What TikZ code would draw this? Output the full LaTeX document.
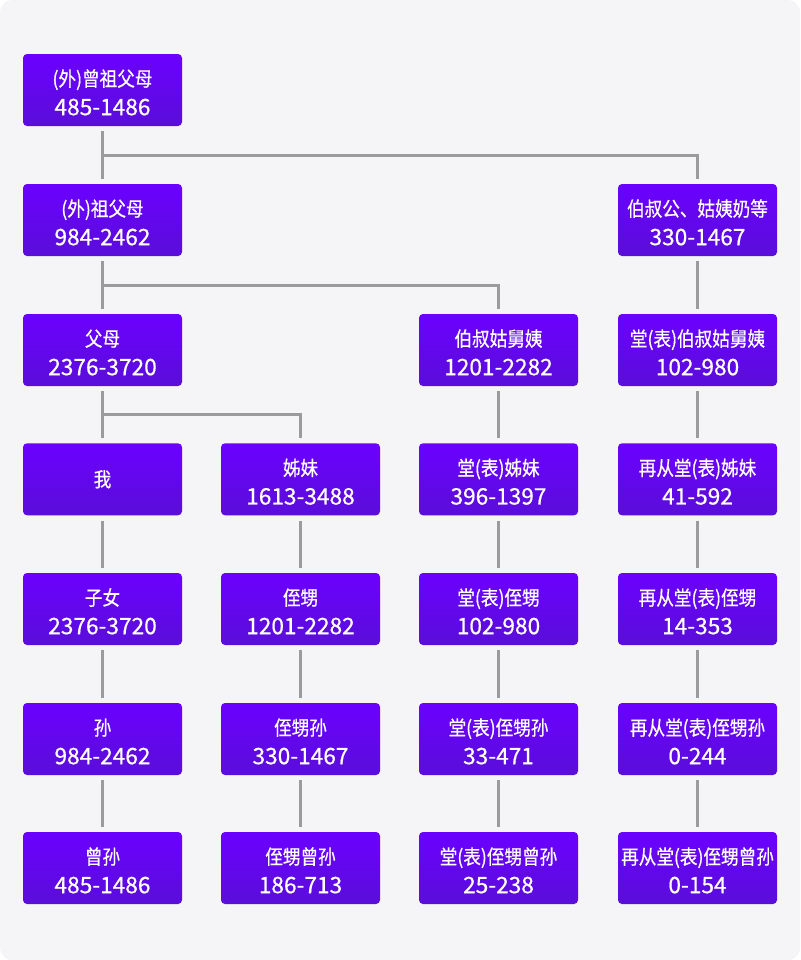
\documentclass[tikz,border=0pt]{standalone}
\usepackage{fontspec}
\newfontfamily\cjk[FakeStretch=0.88,FakeBold=0.6]{Noto Sans CJK SC}
\newfontfamily\numfont[FakeBold=0.6]{Noto Sans CJK SC}
\usetikzlibrary{calc}
\definecolor{bgcol}{HTML}{F5F5F7}
\definecolor{boxtop}{HTML}{6B00FF}
\definecolor{boxbot}{HTML}{5A0ED9}
\definecolor{linkgray}{HTML}{9B9B9B}

\begin{document}
\begin{tikzpicture}[line join=miter,x=0.75pt,y=-0.75pt,
    person/.style={rounded corners=3pt, top color=boxtop, bottom color=boxbot, draw=none,
        text=white, align=center, inner sep=0pt, minimum width=119.25pt, minimum height=54pt,
        font=\cjk\fontsize{15}{21.75}\selectfont},
    pair/.style={person, text height=38pt},
    link/.style={draw=linkgray, line width=2.25pt, shorten <=3.75pt, shorten >=3.75pt}]

    \fill[white] (0,0) rectangle (800,960);
    \fill[bgcol, rounded corners=9pt] (0,0) rectangle (800,960);

    % Direct line
    \draw (102.5,90) node[pair] (ggp) {(外)曾祖父母\\{\numfont\fontsize{17}{21.75}\selectfont 485-1486}};
    \draw (102.5,220) node[pair] (gp) {(外)祖父母\\{\numfont\fontsize{17}{21.75}\selectfont 984-2462}};
    \draw (102.5,350) node[pair] (par) {父母\\{\numfont\fontsize{17}{21.75}\selectfont 2376-3720}};
    \draw (102.5,479.3) node[person] (me) {我};
    \draw (102.5,609) node[pair] (kid) {子女\\{\numfont\fontsize{17}{21.75}\selectfont 2376-3720}};
    \draw (102.5,739) node[pair] (gc) {孙\\{\numfont\fontsize{17}{21.75}\selectfont 984-2462}};
    \draw (102.5,868) node[pair] (ggc) {曾孙\\{\numfont\fontsize{17}{21.75}\selectfont 485-1486}};

    % Siblings
    \draw (300.5,479.3) node[pair] (sib) {姊妹\\{\numfont\fontsize{17}{21.75}\selectfont 1613-3488}};
    \draw (300.5,609) node[pair] (neph) {侄甥\\{\numfont\fontsize{17}{21.75}\selectfont 1201-2282}};
    \draw (300.5,739) node[pair] (gneph) {侄甥孙\\{\numfont\fontsize{17}{21.75}\selectfont 330-1467}};
    \draw (300.5,868) node[pair] (ggneph) {侄甥曾孙\\{\numfont\fontsize{17}{21.75}\selectfont 186-713}};

    % Cousins
    \draw (498.5,350) node[pair] (au) {伯叔姑舅姨\\{\numfont\fontsize{17}{21.75}\selectfont 1201-2282}};
    \draw (498.5,479.3) node[pair] (cous) {堂(表)姊妹\\{\numfont\fontsize{17}{21.75}\selectfont 396-1397}};
    \draw (498.5,609) node[pair] (cneph) {堂(表)侄甥\\{\numfont\fontsize{17}{21.75}\selectfont 102-980}};
    \draw (498.5,739) node[pair] (cgneph) {堂(表)侄甥孙\\{\numfont\fontsize{17}{21.75}\selectfont 33-471}};
    \draw (498.5,868) node[pair] (cggneph) {堂(表)侄甥曾孙\\{\numfont\fontsize{17}{21.75}\selectfont 25-238}};

    % Second cousins
    \draw (697.5,220) node[pair] (gau) {伯叔公、姑姨奶等\\{\numfont\fontsize{17}{21.75}\selectfont 330-1467}};
    \draw (697.5,350) node[pair] (pcous) {堂(表)伯叔姑舅姨\\{\numfont\fontsize{17}{21.75}\selectfont 102-980}};
    \draw (697.5,479.3) node[pair] (scous) {再从堂(表)姊妹\\{\numfont\fontsize{17}{21.75}\selectfont 41-592}};
    \draw (697.5,609) node[pair] (sneph) {再从堂(表)侄甥\\{\numfont\fontsize{17}{21.75}\selectfont 14-353}};
    \draw (697.5,739) node[pair] (sgneph) {再从堂(表)侄甥孙\\{\numfont\fontsize{17}{21.75}\selectfont 0-244}};
    \draw (697.5,868) node[pair] (sggneph) {再从堂(表)侄甥曾孙\\{\numfont\fontsize{17}{21.75}\selectfont 0-154}};

    % Branch points
    \coordinate (b1) at ($(ggp.south)!0.5!(gp.north)$);
    \coordinate (b2) at ($(gp.south)!0.5!(par.north)$);
    \coordinate (b3) at ($(par.south)!0.5!(me.north)$);

    % Trunk
    \draw[link] (ggp) -- (gp);
    \draw[link] (gp) -- (par);
    \draw[link] (par) -- (me);
    \draw[link] (me) -- (kid);
    \draw[link] (kid) -- (gc);
    \draw[link] (gc) -- (ggc);
    % Branches
    \draw[link, shorten <=0pt] (b1) -| (gau);
    \draw[link, shorten <=0pt] (b2) -| (au);
    \draw[link, shorten <=0pt] (b3) -| (sib);
    % Columns
    \draw[link] (sib) -- (neph);
    \draw[link] (neph) -- (gneph);
    \draw[link] (gneph) -- (ggneph);
    \draw[link] (au) -- (cous);
    \draw[link] (cous) -- (cneph);
    \draw[link] (cneph) -- (cgneph);
    \draw[link] (cgneph) -- (cggneph);
    \draw[link] (gau) -- (pcous);
    \draw[link] (pcous) -- (scous);
    \draw[link] (scous) -- (sneph);
    \draw[link] (sneph) -- (sgneph);
    \draw[link] (sgneph) -- (sggneph);
\end{tikzpicture}
\end{document}
